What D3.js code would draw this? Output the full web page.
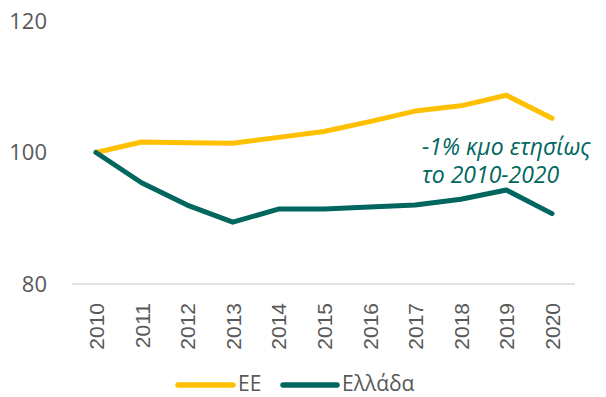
<!DOCTYPE html>
<html>
<head>
<meta charset="utf-8">
<script src="https://cdn.jsdelivr.net/npm/d3@7"></script>
<style>
  html, body { margin: 0; padding: 0; background: #fff; }
  svg { display: block; }
</style>
</head>
<body>
<svg id="chart" width="606" height="397"></svg>
<script>
// Index, 2010 = 100
const years = ["2010","2011","2012","2013","2014","2015","2016","2017","2018","2019","2020"];
const euValues = [100, 101.6, 101.5, 101.4, 102.3, 103.2, 104.7, 106.3, 107.1, 108.7, 105.2];
const grValues = [100, 95.4, 92.0, 89.4, 91.4, 91.4, 91.7, 92.0, 92.9, 94.3, 90.7];
const yTicks = [80, 100, 120];
const seriesNames = ["ΕΕ", "Ελλάδα"];
const seriesColors = ["#FFC000", "#00665E"];
const noteLines = ["-1% κμο ετησίως", "το 2010-2020"];

const svg = d3.select("#chart");

const x = d3.scalePoint().domain(years).range([96, 552]);
const y = d3.scaleLinear().domain([80, 120]).range([284, 21]);

// baseline
svg.append("line")
  .attr("x1", 72).attr("x2", 575)
  .attr("y1", y(80)).attr("y2", y(80))
  .attr("stroke", "#D9D9D9").attr("stroke-width", 1.5);

// y axis labels
const yAxis = d3.axisLeft(y).tickValues(yTicks).tickSize(0).tickPadding(0);
const gy = svg.append("g").attr("transform", "translate(47,0)").call(yAxis);
gy.select(".domain").remove();
gy.selectAll("text")
  .attr("fill", "#595959")
  .style("font-family", "'Open Sans', sans-serif")
  .style("font-size", "22px");

// x axis labels, rotated
const xAxis = d3.axisBottom(x).tickSize(0).tickPadding(0);
const gx = svg.append("g").attr("transform", `translate(0,${y(80)})`).call(xAxis);
gx.select(".domain").remove();
gx.selectAll("text")
  .attr("fill", "#595959")
  .style("font-family", "'Liberation Sans', Arial, sans-serif")
  .style("font-size", "21px")
  .attr("text-anchor", "end")
  .attr("dy", null)
  .attr("y", 0)
  .attr("transform", "translate(0,19) rotate(-90)")
  .attr("dominant-baseline", "central");

// series lines
const line = d3.line()
  .x((d, i) => x(years[i]))
  .y(d => y(d));

[euValues, grValues].forEach((vals, i) => {
  svg.append("path")
    .datum(vals)
    .attr("d", line)
    .attr("fill", "none")
    .attr("stroke", seriesColors[i])
    .attr("stroke-width", 5)
    .attr("stroke-linejoin", "round")
    .attr("stroke-linecap", "round");
});

// annotation
const note = svg.append("text")
  .attr("fill", "#00665E")
  .style("font-family", "'Open Sans', sans-serif")
  .style("font-style", "italic")
  .style("font-size", "23px");
noteLines.forEach((t, i) => {
  note.append("tspan").attr("x", 422).attr("y", 155 + i * 28).text(t);
});

// legend
const legendItems = [
  { x1: 178, x2: 233, tx: 238 },
  { x1: 283, x2: 337, tx: 342 }
];
legendItems.forEach((it, i) => {
  svg.append("line")
    .attr("x1", it.x1).attr("x2", it.x2)
    .attr("y1", 385).attr("y2", 385)
    .attr("stroke", seriesColors[i])
    .attr("stroke-width", 5.5)
    .attr("stroke-linecap", "round");
  svg.append("text")
    .attr("x", it.tx).attr("y", 390.5)
    .attr("fill", "#595959")
    .style("font-family", "'Open Sans', sans-serif")
    .style("font-size", "21px")
    .text(seriesNames[i]);
});
</script>
</body>
</html>
